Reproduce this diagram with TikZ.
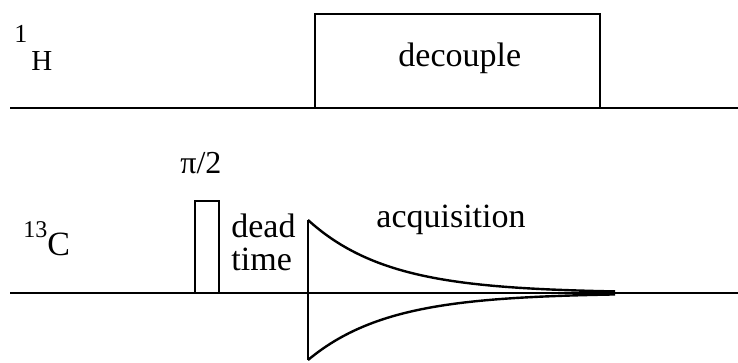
\documentclass[tikz,border=0pt]{standalone}
\usepackage{fontspec}
\newfontfamily\tms{Liberation Serif}
\begin{document}
\begin{tikzpicture}[x=1pt,y=-1pt,line width=2.8pt,
  lbl/.style={inner sep=0pt,anchor=base west,font=\tms\fontsize{34}{36}\selectfont},
  sm/.style={inner sep=0pt,anchor=base west,font=\tms\fontsize{26}{28}\selectfont},
  fid/.style={line width=2.4pt}]
\useasboundingbox (0,0) rectangle (738,362);
% 1H channel
\coordinate (h0) at (10,108);
\coordinate (h1) at (738,108);
\draw (h0) -- (h1);
\coordinate (d0) at (315,108);
\coordinate (d1) at (600,14);
\draw (d0) |- (d1) -- (600,108);
\node[lbl] (dec) at (397,66) {decouple};
\node[sm] (one) at (13,42) {1};
\node[inner sep=0pt,anchor=base west,font=\tms\fontsize{29}{30}\selectfont] (H) at (30,70) {H};
% 13C channel
\coordinate (c0) at (10,293);
\coordinate (c1) at (738,293);
\draw (c0) -- (c1);
\coordinate (p0) at (195,293);
\coordinate (p1) at (219,201);
\draw (p0) |- (p1) -- (219,293);
\node[inner sep=0pt,anchor=base west,font=\tms\fontsize{32}{34}\selectfont] (pi) at (179,173) {π/2};
\node[inner sep=0pt,anchor=base west,font=\tms\fontsize{24}{26}\selectfont] (thirteen) at (22,237) {13};
\node[lbl] (C) at (46,255) {C};
\node[lbl] (dead) at (230,237) {dead};
\node[lbl] (time) at (230,270) {time};
\node[lbl] (acq) at (375,227) {acquisition};
% FID
\coordinate (f0) at (308,220);
\coordinate (f1) at (308,360);
\draw[fid] (f0) -- (f1);
\draw[fid] plot[domain=0:307,samples=120] ({308+\x},{293-73*exp(-\x/80)});
\draw[fid] plot[domain=0:307,samples=120] ({308+\x},{293+67*exp(-\x/80)});
\end{tikzpicture}
\end{document}
